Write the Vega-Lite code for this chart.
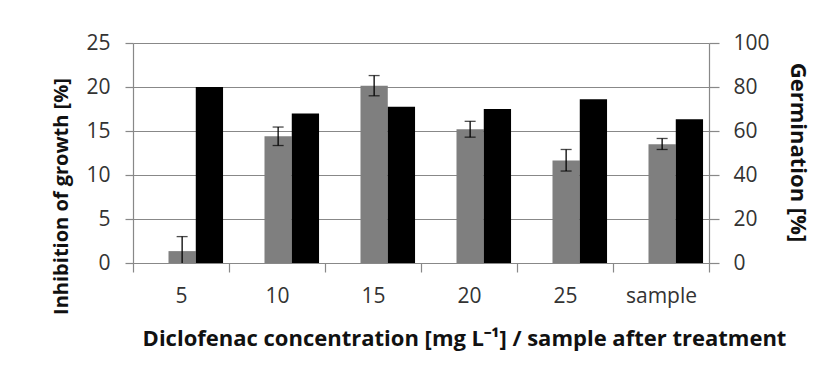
{
  "$schema": "https://vega.github.io/schema/vega-lite/v6.json",
  "width": 576,
  "height": 220,
  "autosize": {"type": "none"},
  "padding": {"left": 133, "top": 43, "right": 129, "bottom": 121},
  "background": "white",
  "config": {
    "view": {"stroke": null},
    "font": "Open Sans",
    "axis": {"labelFont": "Open Sans", "titleFont": "Open Sans", "labelFontSize": 21, "titleFontSize": 22, "titleFontWeight": "bold", "labelColor": "#333333", "titleColor": "#111111", "domainColor": "#888888", "tickColor": "#888888", "gridColor": "#888888", "domainWidth": 1.2, "tickWidth": 1.2, "gridWidth": 1.2}
  },
  "data": {
    "values": [
      {"cat": "5", "series": "Inhibition", "value": 1.35, "lo": -0.3, "hi": 3.0},
      {"cat": "10", "series": "Inhibition", "value": 14.4, "lo": 13.35, "hi": 15.45},
      {"cat": "15", "series": "Inhibition", "value": 20.15, "lo": 19.0, "hi": 21.3},
      {"cat": "20", "series": "Inhibition", "value": 15.2, "lo": 14.3, "hi": 16.1},
      {"cat": "25", "series": "Inhibition", "value": 11.65, "lo": 10.45, "hi": 12.9},
      {"cat": "sample", "series": "Inhibition", "value": 13.5, "lo": 12.9, "hi": 14.15},
      {"cat": "5", "series": "Germination", "value": 80},
      {"cat": "10", "series": "Germination", "value": 68},
      {"cat": "15", "series": "Germination", "value": 71},
      {"cat": "20", "series": "Germination", "value": 70},
      {"cat": "25", "series": "Germination", "value": 74.4},
      {"cat": "sample", "series": "Germination", "value": 65.3}
    ]
  },
  "encoding": {
    "x": {
      "field": "cat",
      "type": "nominal",
      "sort": ["5", "10", "15", "20", "25", "sample"],
      "scale": {"paddingInner": 0, "paddingOuter": 0},
      "axis": {
        "title": "Diclofenac concentration [mg L⁻¹] / sample after treatment",
        "labelAngle": 0,
        "tickBand": "extent",
        "tickSize": 9,
        "labelPadding": 13,
        "grid": false,
        "titleX": 331,
        "titleY": 75,
        "titleBaseline": "middle",
        "titleAnchor": null,
        "titleAlign": "center"
      }
    },
    "xOffset": {
      "field": "series",
      "type": "nominal",
      "scale": {"domain": ["_", "Inhibition", "Germination"], "paddingInner": 0, "paddingOuter": 0.26, "align": 0.58}
    }
  },
  "layer": [
    {
      "transform": [{"filter": "datum.series === 'Inhibition'"}],
      "encoding": {
        "y": {
          "field": "value",
          "type": "quantitative",
          "scale": {"domain": [0, 25]},
          "axis": {
            "title": "Inhibition of growth [%]",
            "titleFontSize": 20,
            "values": [0, 5, 10, 15, 20, 25],
            "grid": true,
            "tickSize": 8,
            "labelPadding": 15,
            "titleX": -72,
            "titleY": 153,
            "titleBaseline": "middle",
            "titleAnchor": null,
            "titleAlign": "center"
          }
        }
      },
      "layer": [
        {
          "mark": {"type": "bar", "color": "#7f7f7f"}
        },
        {
          "mark": {"type": "rule", "color": "#000000", "strokeWidth": 1.3, "clip": true},
          "encoding": {
            "y": {"field": "lo", "type": "quantitative", "scale": {"domain": [0, 25]}, "title": "Inhibition of growth [%]"},
            "y2": {"field": "hi"}
          }
        },
        {
          "mark": {"type": "tick", "color": "#000000", "size": 11, "thickness": 1.3, "clip": true},
          "encoding": {
            "y": {"field": "hi", "type": "quantitative", "scale": {"domain": [0, 25]}, "title": "Inhibition of growth [%]"}
          }
        },
        {
          "mark": {"type": "tick", "color": "#000000", "size": 11, "thickness": 1.3, "clip": true},
          "encoding": {
            "y": {"field": "lo", "type": "quantitative", "scale": {"domain": [0, 25]}, "title": "Inhibition of growth [%]"}
          }
        }
      ]
    },
    {
      "transform": [{"filter": "datum.series === 'Germination'"}],
      "mark": {"type": "bar", "color": "#000000"},
      "encoding": {
        "y": {
          "field": "value",
          "type": "quantitative",
          "scale": {"domain": [0, 100]},
          "axis": {
            "orient": "right",
            "title": "Germination [%]",
            "values": [0, 20, 40, 60, 80, 100],
            "grid": false,
            "tickSize": 10,
            "labelPadding": 14,
            "titleAngle": 90,
            "titleX": 88,
            "titleY": 109,
            "titleBaseline": "middle",
            "titleAnchor": null,
            "titleAlign": "center"
          }
        }
      }
    }
  ],
  "resolve": {"scale": {"y": "independent"}, "axis": {"y": "independent"}}
}
